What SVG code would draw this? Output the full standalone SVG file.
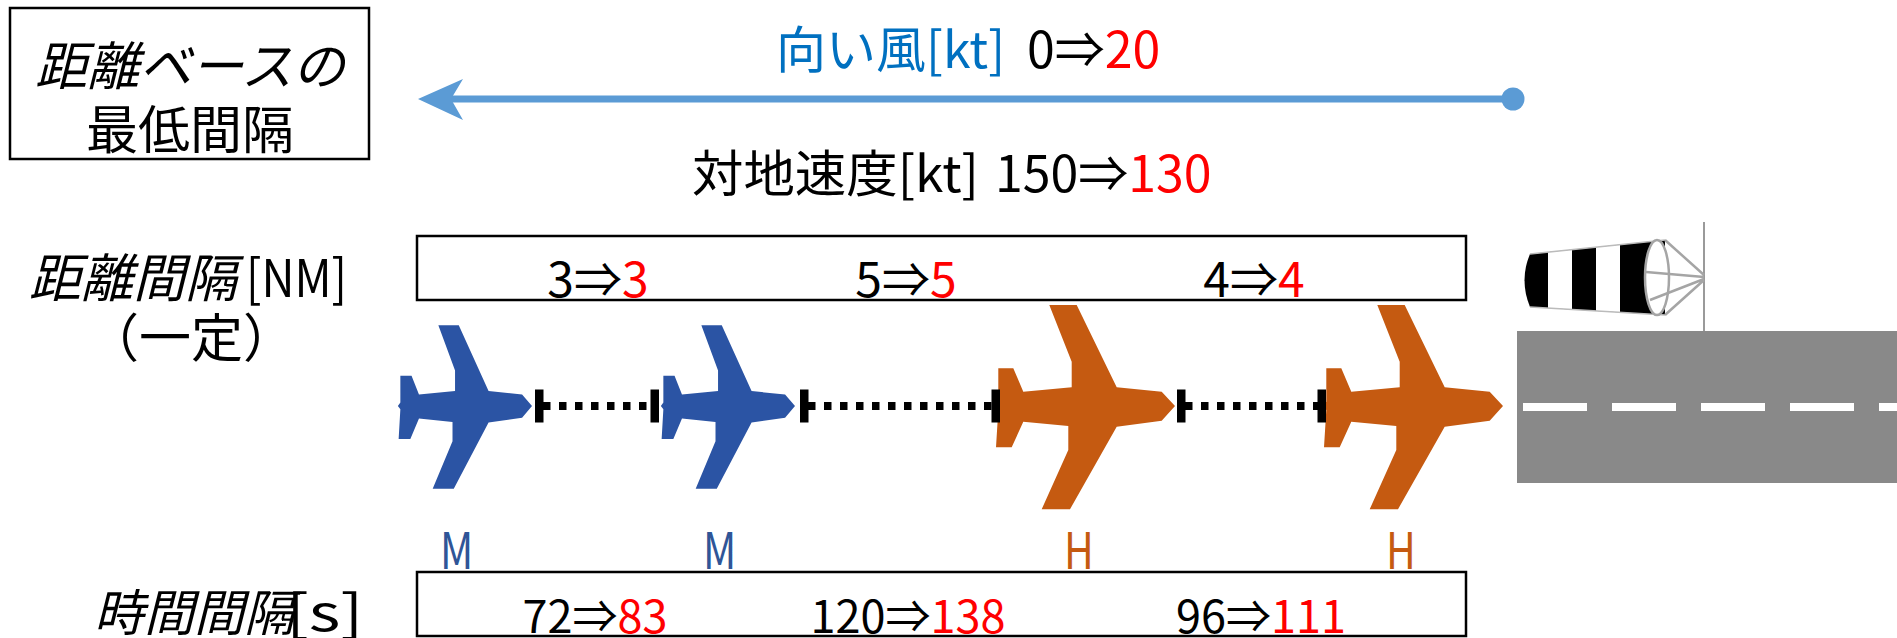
<svg xmlns="http://www.w3.org/2000/svg" width="1897" height="638" viewBox="0 0 1897 638">
  <style>
    text { font-family: "Noto Sans CJK JP", "Noto Sans", sans-serif; fill: #000; }
    .it { font-style: italic; }
    .red { fill: #FF0000; }
    .blue { fill: #0070C0; }
    .box { fill: none; stroke: #000; stroke-width: 2.5; }
    .tick { fill: #000; }
    .dots { stroke: #000; stroke-width: 8; stroke-dasharray: 7.5 8.5; fill: none; }
    .lblM { font-size: 50px; fill: #2F5597; }
    .lblH { font-size: 50px; fill: #C55A11; }
    .planeM { fill: #2B54A4; }
    .planeH { fill: #C55A11; }
  </style>
  <defs>
    <!-- airliner silhouette, nose at origin pointing right -->
    <path id="plane" d="M0,0 L-13.3,-14.3 L-58.3,-18.7 L-98.3,-101 L-125.7,-101 L-103.3,-44.3 L-103.3,-18.7 L-151.7,-14.3 L-161.7,-37.7 L-176.7,-37.7 L-176.7,-4.3 L-180,0 L-176.7,4 L-179,41.3 L-163.3,41.3 L-151.7,15.7 L-106.7,20 L-106.7,44 L-133.3,103.3 L-105,103.3 L-58.3,20.7 L-13.3,14.7 Z"/>
    <clipPath id="sockClip">
      <path d="M1530,254 L1665,240 L1665,315 L1530,307 Q1519,280 1530,254 Z"/>
    </clipPath>
  </defs>

  <!-- title box -->
  <g id="title">
    <rect class="box" x="10" y="8" width="359" height="151"/>
    <text class="it" x="190" y="85" font-size="52" text-anchor="middle">距離ベースの</text>
    <text x="190" y="149" font-size="52" text-anchor="middle">最低間隔</text>
  </g>

  <!-- headwind -->
  <g id="wind">
    <text x="776" y="68" font-size="50"><tspan class="blue">向い風[kt]</tspan><tspan x="1027">0⇒</tspan><tspan class="red">20</tspan></text>
    <line x1="440" y1="99" x2="1513" y2="99" stroke="#5B9BD5" stroke-width="7"/>
    <polygon points="418,99 463,79 451,99 463,120" fill="#5B9BD5"/>
    <circle cx="1513" cy="99" r="11.5" fill="#5B9BD5"/>
  </g>

  <!-- ground speed -->
  <g id="groundspeed">
    <text x="692" y="192" font-size="50" textLength="287" lengthAdjust="spacingAndGlyphs">対地速度[kt]</text>
    <text x="995" y="192" font-size="50">150⇒<tspan class="red">130</tspan></text>
  </g>

  <!-- distance separation -->
  <g id="distance">
    <text class="it" x="29" y="297" font-size="52">距離間隔</text>
    <text x="246" y="297" font-size="52" textLength="101" lengthAdjust="spacingAndGlyphs">[NM]</text>
    <text x="191" y="357" font-size="52" text-anchor="middle">（一定）</text>
    <rect class="box" x="417" y="236" width="1049" height="64"/>
    <text x="598" y="297" font-size="48" text-anchor="middle">3⇒<tspan class="red">3</tspan></text>
    <text x="906" y="297" font-size="48" text-anchor="middle">5⇒<tspan class="red">5</tspan></text>
    <text x="1254" y="297" font-size="48" text-anchor="middle">4⇒<tspan class="red">4</tspan></text>
  </g>

  <!-- aircraft -->
  <g id="aircraft1">
    <use href="#plane" class="planeM" transform="translate(532,406) scale(0.745,0.8)"/>
    <text class="lblM" transform="translate(440,569) scale(0.82,1)">M</text>
  </g>
  <g id="aircraft2">
    <use href="#plane" class="planeM" transform="translate(795,406) scale(0.745,0.8)"/>
    <text class="lblM" transform="translate(703,569) scale(0.82,1)">M</text>
  </g>
  <g id="aircraft3">
    <use href="#plane" class="planeH" transform="translate(1175,406)"/>
    <text class="lblH" transform="translate(1064,569) scale(0.82,1)">H</text>
  </g>
  <g id="aircraft4">
    <use href="#plane" class="planeH" transform="translate(1503,406)"/>
    <text class="lblH" transform="translate(1386,569) scale(0.82,1)">H</text>
  </g>

  <!-- separation connectors -->
  <g id="connectors">
    <rect class="tick" x="535" y="389.5" width="8.5" height="33"/>
    <line class="dots" x1="543" y1="406" x2="651" y2="406"/>
    <rect class="tick" x="650.5" y="389.5" width="8.5" height="33"/>

    <rect class="tick" x="800" y="389.5" width="8.5" height="33"/>
    <line class="dots" x1="808" y1="406" x2="992" y2="406"/>
    <rect class="tick" x="991.5" y="389.5" width="8.5" height="33"/>

    <rect class="tick" x="1177" y="389.5" width="8.5" height="33"/>
    <line class="dots" x1="1185" y1="406" x2="1318" y2="406"/>
    <rect class="tick" x="1317.5" y="389.5" width="8.5" height="33"/>
  </g>

  <!-- time separation -->
  <g id="time">
    <text class="it" x="94" y="631" font-size="50">時間間隔</text>
    <text font-size="50" transform="translate(286,631) scale(1.35,1)">[s]</text>
    <rect class="box" x="417" y="572" width="1049" height="64"/>
    <text x="595" y="633" font-size="45" text-anchor="middle">72⇒<tspan class="red">83</tspan></text>
    <text x="908" y="633" font-size="45" text-anchor="middle">120⇒<tspan class="red">138</tspan></text>
    <text x="1261" y="633" font-size="45" text-anchor="middle">96⇒<tspan class="red">111</tspan></text>
  </g>

  <!-- runway -->
  <g id="runway">
    <rect x="1517" y="331" width="380" height="152" fill="#898989"/>
    <line x1="1523" y1="407" x2="1897" y2="407" stroke="#fff" stroke-width="8" stroke-dasharray="64 25"/>
  </g>

  <!-- windsock -->
  <g id="windsock">
    <line x1="1704" y1="222" x2="1704" y2="331" stroke="#9a9a9a" stroke-width="2"/>
    <g clip-path="url(#sockClip)">
      <rect x="1515" y="230" width="155" height="90" fill="#000"/>
      <rect x="1548" y="230" width="24" height="90" fill="#fff"/>
      <rect x="1596" y="230" width="24" height="90" fill="#fff"/>
    </g>
    <path d="M1530,254 L1665,240 M1530,307 L1665,315" stroke="#bbb" stroke-width="1.5" fill="none"/>
    <ellipse cx="1657" cy="277.5" rx="12" ry="37.5" fill="#fff" stroke="#a5a5a5" stroke-width="2.5"/>
    <path d="M1665,240 L1704,275 M1665,315 L1704,280 M1646,272 L1704,277 M1650,300 L1704,279" stroke="#a5a5a5" stroke-width="2.5" fill="none"/>
  </g>
</svg>
